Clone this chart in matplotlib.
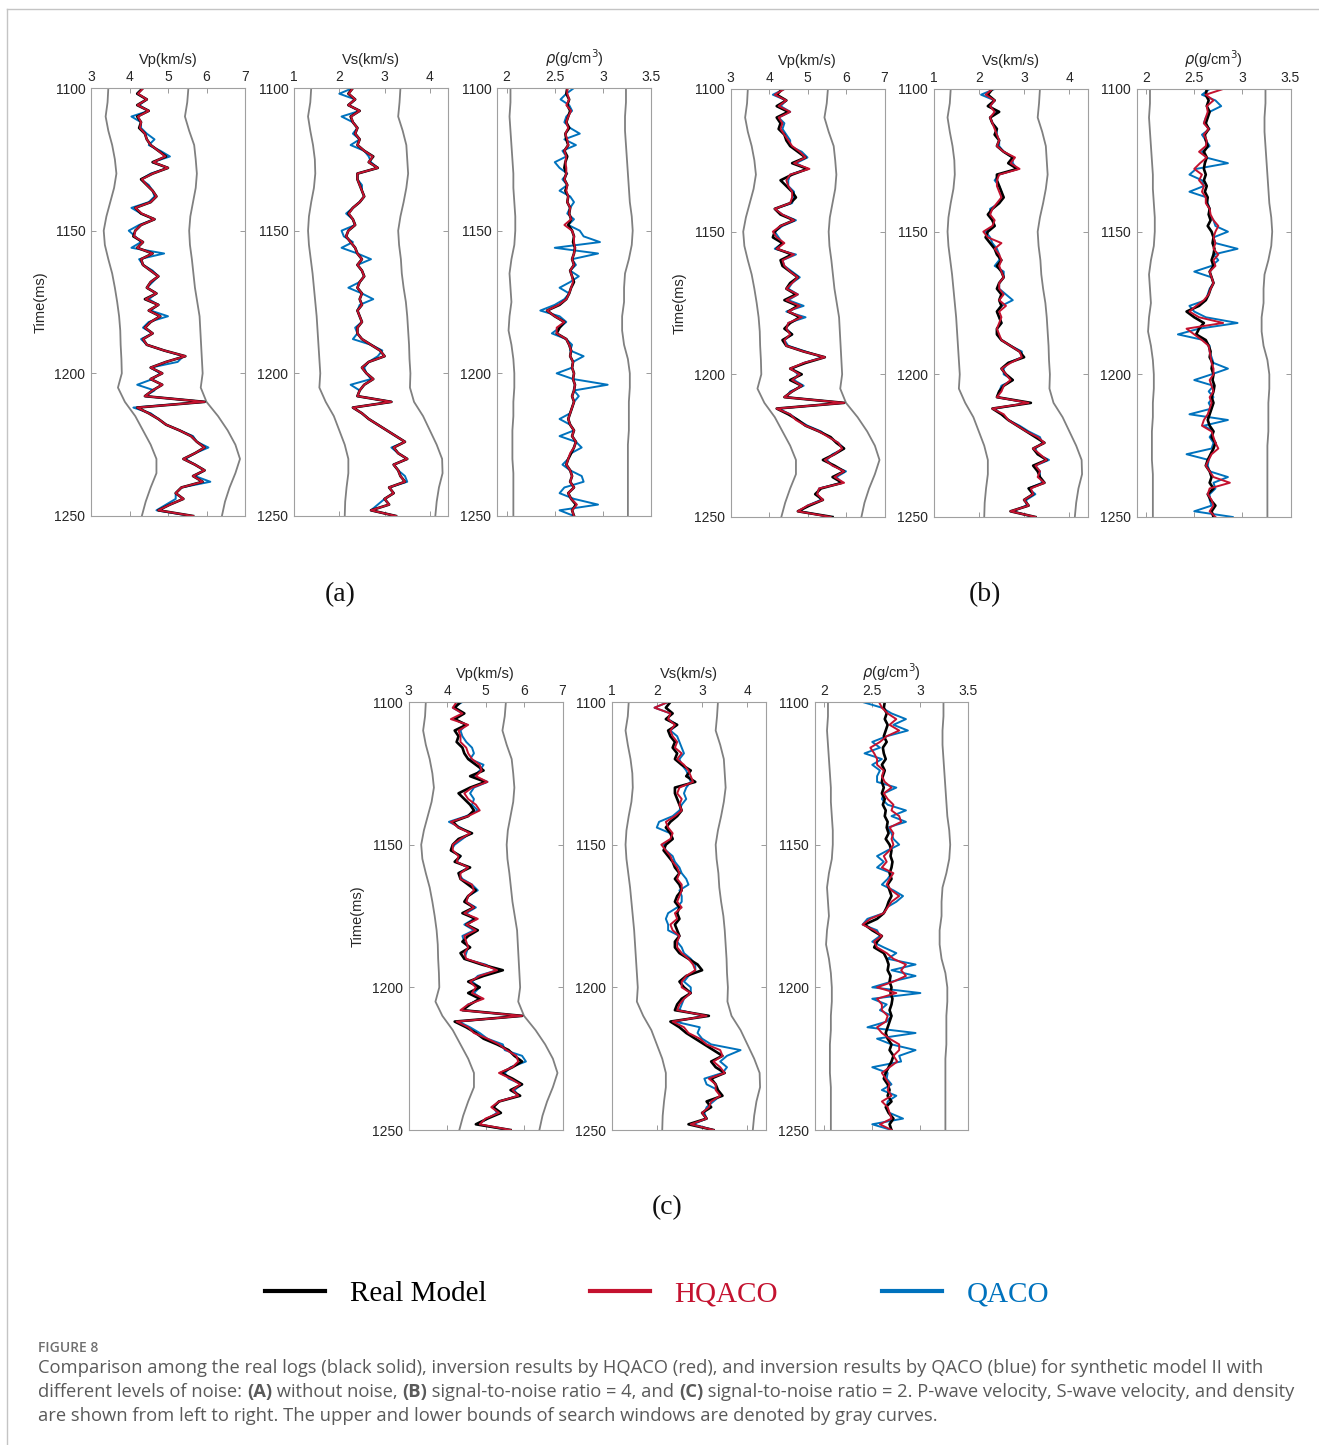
import numpy as np
import matplotlib
matplotlib.use("Agg")
import matplotlib.pyplot as plt
from matplotlib.lines import Line2D

plt.rcParams['font.family'] = ['Liberation Sans', 'DejaVu Sans']

W, H = 1319, 1445

# sampling grids (ms)
time_ms = np.arange(1100, 1251, 2)
bound_time = np.arange(1100, 1251, 5)

# ---------------- true model logs ----------------
vp_real = [4.35, 4.20, 4.45, 4.20, 4.50, 4.20, 4.30, 4.25, 4.40, 4.45,
           4.55, 4.75, 4.95, 4.60, 5.00, 4.60, 4.30, 4.45, 4.60, 4.70,
           4.55, 4.15, 4.30, 4.65, 4.30, 4.15, 4.10, 4.35, 4.20, 4.60,
           4.30, 4.35, 4.55, 4.75, 4.55, 4.45, 4.70, 4.40, 4.75, 4.50,
           4.80, 4.55, 4.40, 4.60, 4.35, 4.45, 4.90, 5.45, 4.95, 4.55,
           4.85, 4.55, 4.85, 4.60, 4.40, 5.95, 4.20, 4.50, 4.75, 4.95,
           5.30, 5.60, 5.75, 5.95, 5.70, 5.40, 5.70, 5.95, 5.65, 5.90,
           5.35, 5.20, 5.40, 5.05, 4.75, 5.65]
vs_real = [2.30, 2.20, 2.35, 2.20, 2.45, 2.25, 2.30, 2.40, 2.35, 2.45,
           2.40, 2.55, 2.75, 2.65, 2.85, 2.40, 2.40, 2.45, 2.50, 2.55,
           2.45, 2.30, 2.20, 2.30, 2.35, 2.20, 2.15, 2.25, 2.35, 2.40,
           2.50, 2.40, 2.50, 2.55, 2.45, 2.40, 2.50, 2.45, 2.50, 2.40,
           2.45, 2.50, 2.40, 2.40, 2.50, 2.70, 2.90, 3.00, 2.65, 2.50,
           2.60, 2.75, 2.55, 2.45, 2.40, 3.15, 2.30, 2.50, 2.65, 2.85,
           3.05, 3.25, 3.45, 3.20, 3.30, 3.50, 3.20, 3.30, 3.35, 3.45,
           3.10, 3.20, 3.00, 3.10, 2.70, 3.25]
rho_real = [2.63, 2.62, 2.65, 2.63, 2.66, 2.64, 2.62, 2.65, 2.61, 2.62,
            2.64, 2.60, 2.63, 2.61, 2.60, 2.62, 2.60, 2.63, 2.61, 2.64,
            2.63, 2.66, 2.65, 2.67, 2.64, 2.68, 2.70, 2.69, 2.71, 2.70,
            2.68, 2.70, 2.66, 2.68, 2.70, 2.67, 2.65, 2.62, 2.55, 2.42,
            2.50, 2.60, 2.55, 2.52, 2.62, 2.65, 2.67, 2.66, 2.69, 2.68,
            2.70, 2.69, 2.71, 2.70, 2.68, 2.70, 2.68, 2.66, 2.64, 2.66,
            2.70, 2.68, 2.72, 2.70, 2.67, 2.64, 2.62, 2.66, 2.68, 2.66,
            2.70, 2.64, 2.67, 2.72, 2.68, 2.70]

# ---------------- search window bounds ----------------
vp_low = [3.45, 3.43, 3.38, 3.45, 3.55, 3.62, 3.66, 3.60, 3.50, 3.40, 3.33,
          3.36, 3.45, 3.55, 3.62, 3.68, 3.73, 3.76, 3.77, 3.79, 3.80,
          3.70, 3.88, 4.15, 4.35, 4.55, 4.70, 4.70, 4.55, 4.42, 4.32]
vp_up = [5.53, 5.50, 5.44, 5.55, 5.68, 5.72, 5.75, 5.72, 5.65, 5.58, 5.55,
         5.57, 5.62, 5.66, 5.70, 5.76, 5.82, 5.84, 5.86, 5.88, 5.90,
         5.85, 6.00, 6.30, 6.55, 6.75, 6.87, 6.75, 6.60, 6.48, 6.40]
vs_low = [1.38, 1.36, 1.31, 1.36, 1.42, 1.46, 1.47, 1.44, 1.38, 1.33, 1.31,
          1.33, 1.37, 1.41, 1.44, 1.47, 1.50, 1.52, 1.54, 1.56, 1.58,
          1.56, 1.70, 1.88, 2.00, 2.12, 2.20, 2.20, 2.16, 2.13, 2.12]
vs_up = [3.35, 3.33, 3.30, 3.40, 3.48, 3.50, 3.52, 3.48, 3.42, 3.35, 3.30,
         3.32, 3.36, 3.38, 3.42, 3.47, 3.50, 3.52, 3.54, 3.55, 3.57,
         3.56, 3.65, 3.85, 4.00, 4.15, 4.27, 4.28, 4.20, 4.15, 4.12]
rho_low = [2.04, 2.04, 2.03, 2.04, 2.05, 2.06, 2.07, 2.07, 2.08, 2.09, 2.09,
           2.08, 2.05, 2.03, 2.04, 2.05, 2.03, 2.02, 2.05, 2.07, 2.08,
           2.08, 2.07, 2.07, 2.06, 2.06, 2.06, 2.07, 2.07, 2.07, 2.07]
rho_up = [3.24, 3.24, 3.23, 3.23, 3.24, 3.25, 3.26, 3.27, 3.28, 3.30, 3.31,
          3.30, 3.27, 3.23, 3.22, 3.22, 3.20, 3.20, 3.22, 3.26, 3.28,
          3.28, 3.27, 3.27, 3.27, 3.26, 3.26, 3.26, 3.26, 3.26, 3.26]

# ---------------- (a) noise free ----------------
vp_hq_a = [4.36, 4.22, 4.45, 4.21, 4.50, 4.22, 4.30, 4.27, 4.40, 4.45,
           4.55, 4.75, 4.93, 4.62, 5.00, 4.60, 4.32, 4.45, 4.60, 4.70,
           4.55, 4.15, 4.32, 4.65, 4.30, 4.15, 4.12, 4.35, 4.20, 4.60,
           4.30, 4.35, 4.55, 4.75, 4.55, 4.45, 4.70, 4.42, 4.75, 4.50,
           4.80, 4.55, 4.40, 4.60, 4.35, 4.45, 4.90, 5.45, 4.95, 4.55,
           4.85, 4.55, 4.85, 4.60, 4.40, 5.95, 4.20, 4.50, 4.75, 4.95,
           5.30, 5.60, 5.75, 5.95, 5.70, 5.40, 5.70, 5.95, 5.65, 5.90,
           5.35, 5.20, 5.40, 5.05, 4.75, 5.65]
vp_qa_a = [4.35, 4.20, 4.45, 4.25, 4.50, 4.05, 4.30, 4.30, 4.45, 4.65,
           4.50, 4.80, 5.05, 4.60, 5.00, 4.55, 4.30, 4.50, 4.60, 4.65,
           4.50, 4.05, 4.30, 4.65, 4.25, 3.98, 4.15, 4.30, 4.05, 4.90,
           4.25, 4.35, 4.60, 4.75, 4.60, 4.45, 4.70, 4.50, 4.75, 4.55,
           5.00, 4.50, 4.35, 4.60, 4.30, 4.45, 4.90, 5.40, 5.25, 4.55,
           4.80, 4.60, 4.20, 4.65, 4.40, 5.95, 4.10, 4.55, 4.75, 4.95,
           5.30, 5.65, 5.75, 6.05, 5.70, 5.45, 5.70, 5.95, 5.70, 6.10,
           5.35, 5.20, 5.20, 4.95, 4.70, 5.60]
vs_hq_a = [2.30, 2.21, 2.35, 2.20, 2.45, 2.26, 2.30, 2.40, 2.35, 2.45,
           2.40, 2.55, 2.74, 2.65, 2.85, 2.40, 2.40, 2.45, 2.50, 2.55,
           2.45, 2.30, 2.21, 2.30, 2.35, 2.20, 2.15, 2.25, 2.35, 2.40,
           2.50, 2.40, 2.50, 2.55, 2.45, 2.40, 2.50, 2.45, 2.50, 2.40,
           2.45, 2.50, 2.40, 2.40, 2.50, 2.70, 2.90, 3.00, 2.65, 2.50,
           2.60, 2.75, 2.55, 2.45, 2.40, 3.15, 2.30, 2.50, 2.65, 2.85,
           3.05, 3.25, 3.45, 3.20, 3.30, 3.50, 3.20, 3.30, 3.35, 3.45,
           3.10, 3.20, 3.00, 3.10, 2.70, 3.25]
vs_qa_a = [2.30, 2.00, 2.35, 2.20, 2.45, 2.05, 2.30, 2.40, 2.30, 2.45,
           2.25, 2.55, 2.65, 2.70, 2.85, 2.40, 2.40, 2.50, 2.50, 2.55,
           2.45, 2.30, 2.15, 2.30, 2.35, 2.05, 2.10, 2.30, 2.05, 2.40,
           2.70, 2.40, 2.50, 2.55, 2.45, 2.20, 2.50, 2.75, 2.45, 2.40,
           2.45, 2.50, 2.35, 2.40, 2.30, 2.70, 2.95, 2.85, 2.65, 2.55,
           2.60, 2.70, 2.25, 2.45, 2.40, 3.15, 2.30, 2.50, 2.65, 2.85,
           3.05, 3.25, 3.45, 3.15, 3.30, 3.50, 3.20, 3.30, 3.45, 3.50,
           3.10, 3.20, 3.00, 2.85, 2.70, 3.25]
rho_hq_a = [2.63, 2.63, 2.65, 2.62, 2.67, 2.64, 2.62, 2.64, 2.61, 2.63,
            2.64, 2.60, 2.62, 2.61, 2.62, 2.62, 2.60, 2.63, 2.62, 2.64,
            2.63, 2.66, 2.65, 2.67, 2.60, 2.68, 2.70, 2.70, 2.71, 2.70,
            2.68, 2.70, 2.66, 2.68, 2.69, 2.67, 2.65, 2.62, 2.54, 2.42,
            2.50, 2.60, 2.52, 2.52, 2.62, 2.65, 2.67, 2.66, 2.69, 2.68,
            2.70, 2.69, 2.71, 2.70, 2.68, 2.70, 2.68, 2.66, 2.64, 2.66,
            2.70, 2.68, 2.72, 2.70, 2.66, 2.64, 2.62, 2.66, 2.68, 2.66,
            2.70, 2.64, 2.67, 2.73, 2.68, 2.70]
rho_qa_a = [2.70, 2.62, 2.56, 2.65, 2.68, 2.62, 2.60, 2.66, 2.76, 2.60,
            2.72, 2.58, 2.62, 2.50, 2.55, 2.63, 2.58, 2.63, 2.55, 2.66,
            2.70, 2.66, 2.63, 2.70, 2.64, 2.76, 2.80, 2.97, 2.50, 2.95,
            2.68, 2.72, 2.66, 2.75, 2.66, 2.55, 2.65, 2.60, 2.50, 2.35,
            2.55, 2.62, 2.55, 2.47, 2.62, 2.68, 2.66, 2.80, 2.69, 2.68,
            2.52, 2.69, 3.05, 2.70, 2.75, 2.70, 2.68, 2.66, 2.55, 2.66,
            2.70, 2.55, 2.72, 2.78, 2.67, 2.64, 2.58, 2.66, 2.78, 2.80,
            2.60, 2.55, 2.70, 2.95, 2.55, 2.70]

# ---------------- (b) SNR = 4 ----------------
vp_hq_b = [4.40, 4.15, 4.45, 4.25, 4.55, 4.25, 4.35, 4.30, 4.40, 4.50,
           4.60, 4.80, 4.95, 4.65, 5.05, 4.55, 4.45, 4.50, 4.60, 4.60,
           4.55, 4.15, 4.35, 4.65, 4.30, 4.10, 4.20, 4.40, 4.20, 4.65,
           4.35, 4.40, 4.55, 4.75, 4.60, 4.45, 4.75, 4.45, 4.80, 4.50,
           4.85, 4.50, 4.45, 4.55, 4.40, 4.45, 4.90, 5.45, 4.90, 4.55,
           4.80, 4.60, 4.85, 4.60, 4.40, 5.95, 4.20, 4.55, 4.70, 4.95,
           5.30, 5.55, 5.80, 5.90, 5.70, 5.45, 5.65, 5.95, 5.70, 5.95,
           5.30, 5.25, 5.40, 5.00, 4.75, 5.60]
vp_qa_b = [4.40, 4.10, 4.45, 4.30, 4.55, 4.25, 4.40, 4.35, 4.45, 4.55,
           4.55, 4.85, 5.00, 4.70, 5.00, 4.55, 4.50, 4.50, 4.65, 4.65,
           4.60, 4.15, 4.35, 4.70, 4.35, 4.15, 4.25, 4.35, 4.15, 4.70,
           4.35, 4.40, 4.60, 4.80, 4.60, 4.50, 4.75, 4.50, 4.90, 4.45,
           4.95, 4.50, 4.45, 4.60, 4.40, 4.50, 4.95, 5.40, 4.90, 4.60,
           4.75, 4.65, 4.90, 4.55, 4.45, 5.90, 4.25, 4.55, 4.75, 5.00,
           5.35, 5.55, 5.80, 5.95, 5.65, 5.50, 5.65, 6.00, 5.75, 5.90,
           5.30, 5.25, 5.35, 5.00, 4.80, 5.60]
vs_hq_b = [2.30, 2.15, 2.35, 2.25, 2.35, 2.25, 2.30, 2.35, 2.40, 2.45,
           2.40, 2.55, 2.80, 2.70, 2.90, 2.45, 2.40, 2.40, 2.45, 2.50,
           2.40, 2.30, 2.25, 2.35, 2.30, 2.10, 2.20, 2.50, 2.35, 2.45,
           2.50, 2.45, 2.50, 2.55, 2.45, 2.45, 2.55, 2.45, 2.60, 2.45,
           2.50, 2.45, 2.40, 2.45, 2.50, 2.70, 2.90, 2.95, 2.70, 2.50,
           2.60, 2.70, 2.55, 2.50, 2.40, 3.10, 2.30, 2.55, 2.65, 2.85,
           3.05, 3.30, 3.45, 3.20, 3.35, 3.50, 3.25, 3.35, 3.30, 3.45,
           3.15, 3.20, 3.00, 3.10, 2.70, 3.25]
vs_qa_b = [2.35, 2.05, 2.35, 2.25, 2.40, 2.25, 2.30, 2.40, 2.40, 2.45,
           2.45, 2.55, 2.75, 2.75, 2.85, 2.45, 2.35, 2.45, 2.50, 2.50,
           2.45, 2.25, 2.25, 2.30, 2.35, 2.15, 2.25, 2.30, 2.40, 2.45,
           2.45, 2.35, 2.55, 2.55, 2.45, 2.45, 2.60, 2.75, 2.50, 2.40,
           2.45, 2.50, 2.40, 2.40, 2.50, 2.70, 2.95, 2.95, 2.65, 2.55,
           2.55, 2.75, 2.50, 2.45, 2.40, 3.10, 2.35, 2.50, 2.65, 2.90,
           3.10, 3.35, 3.40, 3.25, 3.30, 3.55, 3.25, 3.35, 3.35, 3.40,
           3.10, 3.25, 3.05, 3.05, 2.75, 3.20]
rho_hq_b = [2.80, 2.62, 2.70, 2.63, 2.64, 2.62, 2.60, 2.65, 2.60, 2.63,
            2.62, 2.55, 2.63, 2.56, 2.50, 2.58, 2.55, 2.60, 2.58, 2.62,
            2.62, 2.66, 2.67, 2.70, 2.75, 2.72, 2.70, 2.72, 2.70, 2.75,
            2.70, 2.72, 2.66, 2.68, 2.70, 2.67, 2.65, 2.60, 2.52, 2.45,
            2.55, 2.80, 2.42, 2.50, 2.58, 2.65, 2.66, 2.67, 2.68, 2.70,
            2.70, 2.66, 2.68, 2.70, 2.66, 2.68, 2.66, 2.64, 2.60, 2.58,
            2.68, 2.70, 2.72, 2.75, 2.68, 2.65, 2.62, 2.66, 2.70, 2.87,
            2.66, 2.64, 2.68, 2.70, 2.66, 2.72]
rho_qa_b = [2.66, 2.58, 2.72, 2.78, 2.66, 2.62, 2.60, 2.66, 2.58, 2.62,
            2.66, 2.58, 2.62, 2.85, 2.52, 2.45, 2.58, 2.60, 2.45, 2.63,
            2.64, 2.66, 2.65, 2.70, 2.72, 2.85, 2.70, 2.72, 2.95, 2.70,
            2.75, 2.68, 2.50, 2.68, 2.70, 2.66, 2.64, 2.62, 2.45, 2.50,
            2.62, 2.95, 2.55, 2.33, 2.60, 2.66, 2.66, 2.68, 2.70, 2.85,
            2.68, 2.50, 2.70, 2.65, 2.70, 2.65, 2.68, 2.45, 2.85, 2.60,
            2.70, 2.66, 2.70, 2.68, 2.42, 2.65, 2.64, 2.66, 2.85, 2.70,
            2.72, 2.66, 2.66, 2.68, 2.50, 2.90]

# ---------------- (c) SNR = 2 ----------------
vp_hq_c = [4.25, 4.15, 4.40, 4.10, 4.55, 4.30, 4.35, 4.35, 4.50, 4.55,
           4.65, 4.85, 4.90, 4.75, 5.05, 4.65, 4.45, 4.55, 4.75, 4.85,
           4.55, 4.10, 4.30, 4.60, 4.35, 4.15, 4.15, 4.30, 4.25, 4.55,
           4.35, 4.35, 4.65, 4.70, 4.55, 4.50, 4.70, 4.45, 4.80, 4.50,
           4.75, 4.45, 4.50, 4.55, 4.45, 4.50, 4.95, 5.30, 4.85, 4.60,
           4.75, 4.65, 4.95, 4.55, 4.35, 5.95, 4.25, 4.55, 4.70, 5.05,
           5.35, 5.55, 5.80, 5.85, 5.70, 5.35, 5.65, 5.90, 5.70, 5.85,
           5.35, 5.15, 5.35, 5.00, 4.85, 5.65]
vp_qa_c = [4.40, 4.15, 4.40, 4.20, 4.50, 4.35, 4.40, 4.50, 4.65, 4.70,
           4.60, 4.95, 4.85, 4.70, 5.05, 4.70, 4.60, 4.70, 4.65, 4.80,
           4.50, 4.05, 4.35, 4.60, 4.40, 4.20, 4.10, 4.35, 4.25, 4.55,
           4.30, 4.40, 4.65, 4.80, 4.55, 4.50, 4.75, 4.50, 4.70, 4.45,
           4.70, 4.40, 4.45, 4.55, 4.50, 4.45, 5.00, 5.30, 4.80, 4.65,
           4.85, 4.70, 4.90, 4.55, 4.40, 5.90, 4.30, 4.60, 4.85, 5.05,
           5.45, 5.50, 5.95, 6.05, 5.65, 5.50, 5.60, 5.95, 5.75, 5.85,
           5.35, 5.20, 5.30, 5.05, 4.80, 5.60]
vs_hq_c = [2.25, 1.95, 2.30, 2.25, 2.40, 2.30, 2.35, 2.45, 2.40, 2.55,
           2.45, 2.60, 2.70, 2.75, 2.80, 2.50, 2.45, 2.55, 2.50, 2.55,
           2.40, 2.20, 2.25, 2.35, 2.30, 2.10, 2.20, 2.30, 2.35, 2.45,
           2.50, 2.45, 2.55, 2.55, 2.50, 2.45, 2.55, 2.40, 2.45, 2.30,
           2.35, 2.50, 2.45, 2.45, 2.55, 2.70, 2.80, 2.85, 2.65, 2.55,
           2.55, 2.75, 2.60, 2.50, 2.45, 3.10, 2.35, 2.60, 2.70, 2.95,
           3.10, 3.40, 3.45, 3.25, 3.40, 3.50, 3.15, 3.30, 3.30, 3.40,
           3.20, 3.15, 3.00, 3.10, 2.75, 3.25]
vs_qa_c = [2.25, 1.95, 2.30, 2.25, 2.45, 2.30, 2.45, 2.50, 2.55, 2.60,
           2.50, 2.55, 2.65, 2.70, 2.75, 2.65, 2.60, 2.65, 2.55, 2.50,
           2.35, 2.05, 2.00, 2.30, 2.35, 2.15, 2.20, 2.35, 2.40, 2.50,
           2.55, 2.65, 2.70, 2.50, 2.55, 2.55, 2.45, 2.25, 2.20, 2.25,
           2.25, 2.50, 2.45, 2.55, 2.60, 2.75, 2.85, 2.85, 2.70, 2.60,
           2.75, 2.75, 2.60, 2.55, 2.50, 3.05, 2.40, 2.95, 2.90, 3.00,
           3.20, 3.85, 3.55, 3.40, 3.55, 3.45, 3.05, 3.10, 3.35, 3.40,
           3.25, 3.10, 3.05, 3.10, 2.80, 3.25]
rho_hq_c = [2.57, 2.60, 2.66, 2.75, 2.68, 2.78, 2.65, 2.58, 2.48, 2.52,
            2.55, 2.55, 2.62, 2.60, 2.63, 2.70, 2.62, 2.66, 2.72, 2.70,
            2.78, 2.80, 2.68, 2.72, 2.70, 2.72, 2.68, 2.62, 2.65, 2.60,
            2.72, 2.68, 2.65, 2.70, 2.78, 2.70, 2.66, 2.62, 2.48, 2.40,
            2.52, 2.60, 2.52, 2.55, 2.65, 2.72, 2.85, 2.80, 2.85, 2.72,
            2.55, 2.75, 2.55, 2.60, 2.60, 2.66, 2.64, 2.55, 2.60, 2.68,
            2.78, 2.78, 2.72, 2.76, 2.68, 2.60, 2.64, 2.68, 2.66, 2.70,
            2.60, 2.66, 2.68, 2.70, 2.58, 2.70]
rho_qa_c = [2.40, 2.60, 2.70, 2.85, 2.72, 2.87, 2.65, 2.50, 2.58, 2.42,
            2.60, 2.50, 2.58, 2.55, 2.55, 2.75, 2.62, 2.60, 2.66, 2.85,
            2.70, 2.85, 2.66, 2.70, 2.72, 2.78, 2.66, 2.55, 2.62, 2.55,
            2.70, 2.66, 2.60, 2.72, 2.82, 2.75, 2.65, 2.62, 2.45, 2.40,
            2.55, 2.58, 2.50, 2.62, 2.75, 2.66, 2.95, 2.70, 2.95, 2.70,
            2.50, 3.00, 2.50, 2.65, 2.58, 2.70, 2.65, 2.45, 2.95, 2.55,
            2.70, 2.95, 2.78, 2.80, 2.50, 2.66, 2.65, 2.70, 2.60, 2.75,
            2.66, 2.65, 2.68, 2.82, 2.50, 2.70]

# ---------------- track definitions ----------------
track_labels = ['Vp(km/s)', 'Vs(km/s)', r'$\rho$(g/cm$^3$)']
track_limits = [(3, 7), (1, 4.4), (1.9, 3.5)]
track_ticks = [[3, 4, 5, 6, 7], [1, 2, 3, 4], [2, 2.5, 3, 3.5]]
track_ticklabels = [['3', '4', '5', '6', '7'], ['1', '2', '3', '4'],
                    ['2', '2.5', '3', '3.5']]
time_ticks = [1100, 1150, 1200, 1250]

real_logs = [vp_real, vs_real, rho_real]
bounds = [(vp_low, vp_up), (vs_low, vs_up), (rho_low, rho_up)]
hqaco = {'a': [vp_hq_a, vs_hq_a, rho_hq_a],
         'b': [vp_hq_b, vs_hq_b, rho_hq_b],
         'c': [vp_hq_c, vs_hq_c, rho_hq_c]}
qaco = {'a': [vp_qa_a, vs_qa_a, rho_qa_a],
        'b': [vp_qa_b, vs_qa_b, rho_qa_b],
        'c': [vp_qa_c, vs_qa_c, rho_qa_c]}

C_REAL = '#000000'
C_HQ = '#C4122F'
C_QA = '#0072BD'
C_BOUND = '#808080'

# pixel placement of each group: left edge of first track, top, bottom
group_place = {'a': (91, 88, 516), 'b': (730.5, 89, 517), 'c': (408.5, 702, 1130)}
track_step = 203
track_width = 154

fig = plt.figure(figsize=(W / 100, H / 100), dpi=100)


def add_px_axes(x0, y0, x1, y1):
    return fig.add_axes([x0 / W, 1 - y1 / H, (x1 - x0) / W, (y1 - y0) / H])


for key, (gx, gtop, gbot) in group_place.items():
    for k in range(3):
        x0 = gx + k * track_step
        ax = add_px_axes(x0, gtop, x0 + track_width, gbot)
        lo, up = bounds[k]
        ax.plot(lo, bound_time, color=C_BOUND, lw=1.3)
        ax.plot(up, bound_time, color=C_BOUND, lw=1.3)
        ax.plot(qaco[key][k], time_ms, color=C_QA, lw=1.4)
        ax.plot(real_logs[k], time_ms, color=C_REAL, lw=1.9)
        ax.plot(hqaco[key][k], time_ms, color=C_HQ, lw=1.4)
        ax.set_xlim(*track_limits[k])
        ax.set_ylim(1250, 1100)
        ax.set_xticks(track_ticks[k])
        ax.set_xticklabels(track_ticklabels[k])
        ax.set_yticks(time_ticks)
        ax.tick_params(axis='both', direction='in', length=3.5, width=0.6,
                       color='#8a8a8a', labelcolor='#262626', labelsize=10,
                       top=True, bottom=True, left=True, right=True,
                       labeltop=True, labelbottom=False, labelleft=True)
        ax.tick_params(axis='x', pad=3)
        ax.tick_params(axis='y', pad=4)
        ax.xaxis.set_label_position('top')
        ax.set_xlabel(track_labels[k], fontsize=10.5, color='#262626', labelpad=4)
        if k == 0:
            ax.set_ylabel('Time(ms)', fontsize=10.5, color='#262626', labelpad=5)
        for sp in ax.spines.values():
            sp.set_color('#a0a0a0')
            sp.set_linewidth(0.8)

# group captions
serif = ['Liberation Serif', 'DejaVu Serif']
for txt, (px, py) in zip(['(a)', '(b)', '(c)'], [(340, 595), (985, 595), (667, 1208)]):
    fig.text(px / W, 1 - py / H, txt, family=serif, fontsize=20,
             ha='center', va='center', color='#111111')

# legend
leg = fig.legend([Line2D([], [], color=C_REAL, lw=3),
                  Line2D([], [], color=C_HQ, lw=3),
                  Line2D([], [], color=C_QA, lw=3)],
                 ['Real Model', 'HQACO', 'QACO'],
                 loc='center', bbox_to_anchor=(657 / W, 1 - 1294 / H),
                 ncol=3, frameon=False, handlelength=2.05, handletextpad=0.86,
                 columnspacing=3.55, prop={'family': serif, 'size': 21})
for t, c in zip(leg.get_texts(), [C_REAL, C_HQ, C_QA]):
    t.set_color(c)

# page frame lines
fig.add_artist(Line2D([7 / W, 1], [1 - 9 / H, 1 - 9 / H], color='#c4c4c4', lw=1))
fig.add_artist(Line2D([7 / W, 7 / W], [0, 1 - 9 / H], color='#c4c4c4', lw=1))

# figure caption
cap_font = ['Open Sans', 'DejaVu Sans']
fig.text(38 / W, 1 - 1348 / H, 'FIGURE 8', family=cap_font, fontsize=10,
         weight='semibold', color='#707070', va='center')

caption_lines = [
    [('Comparison among the real logs (black solid), inversion results by HQACO (red), '
      'and inversion results by QACO (blue) for synthetic model II with', 'normal')],
    [('different levels of noise: ', 'normal'), ('(A)', 'bold'), (' without noise, ', 'normal'),
     ('(B)', 'bold'), (' signal-to-noise ratio = 4, and ', 'normal'), ('(C)', 'bold'),
     (' signal-to-noise ratio = 2. P-wave velocity, S-wave velocity, and density', 'normal')],
    [('are shown from left to right. The upper and lower bounds of search windows '
      'are denoted by gray curves.', 'normal')],
]
renderer = fig.canvas.get_renderer()
for i, pieces in enumerate(caption_lines):
    xpix = 38
    ypix = 1368 + 24 * i
    for s, wt in pieces:
        t = fig.text(xpix / W, 1 - ypix / H, s, family=cap_font, fontsize=13.2,
                     weight=wt, color='#5a5a5a', va='center')
        bb = t.get_window_extent(renderer)
        xpix = bb.x1

fig.savefig('out.png', dpi=100)
